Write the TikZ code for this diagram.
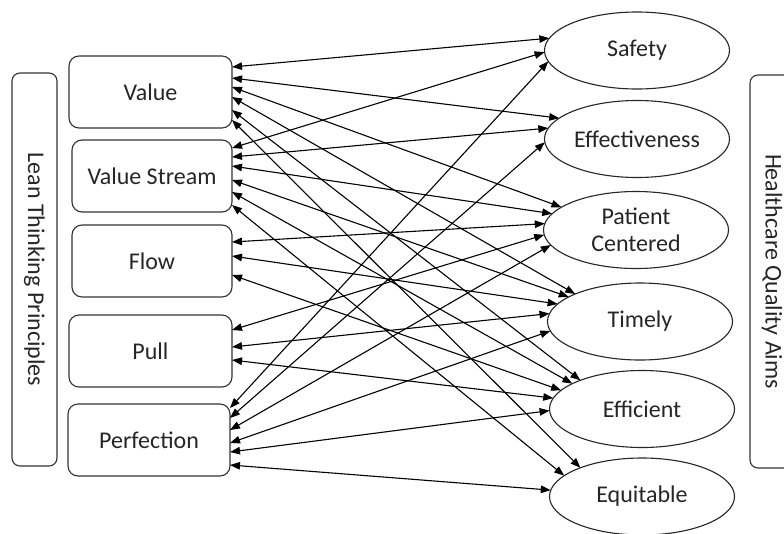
\documentclass[tikz,border=0pt]{standalone}
\usepackage{fontspec}
\setmainfont{Carlito}
\usetikzlibrary{shapes.geometric,arrows.meta}
\begin{document}
\begin{tikzpicture}[x=1pt,y=-1pt,
  lbl/.style={font=\fontsize{24}{27}\selectfont, text=black!85},
  principle/.style={lbl, draw=black!80, line width=1.1pt, rounded corners=10pt,
    minimum width=162pt, minimum height=72pt, inner sep=0pt, outer sep=0pt},
  aim/.style={lbl, draw=black!85, line width=1.1pt, ellipse, align=center,
    minimum width=185pt, minimum height=77pt, inner sep=0pt, outer sep=0pt},
  sidebox/.style={lbl, draw=black!80, line width=1.1pt, rounded corners=8pt,
    rotate=-90, minimum width=393pt, inner sep=0pt, outer sep=0pt},
  link/.style={<->, >={Triangle[length=10pt,width=7.5pt]}, line width=1.1pt, black}]
\useasboundingbox (0,0) rectangle (784,533);
\fill[white] (0,0) rectangle (784,533);

% side boxes
\node[sidebox, minimum height=45pt] (lean) at (34.5,269.5) {Lean Thinking Principles};
\node[sidebox, minimum height=44pt] (aims) at (772,271.5) {Healthcare Quality Aims};

% principles
\node[principle, minimum width=163pt] (value) at (150.5,92) {Value};
\node[principle, minimum width=160pt] (vstream) at (152,176) {Value Stream};
\node[principle, minimum width=160pt] (flow) at (152,261) {Flow};
\node[principle, minimum width=163pt] (pull) at (150.5,351) {Pull};
\node[principle, minimum width=162pt] (perf) at (149,440) {Perfection};

% aims
\node[aim] (safety) at (637,50.5) {Safety};
\node[aim] (effect) at (637,139) {Effectiveness};
\node[aim] (patient) at (636,230) {Patient\\Centered};
\node[aim] (timely) at (640,321.5) {Timely};
\node[aim] (effic) at (642,409) {Efficient};
\node[aim] (equit) at (642,496.5) {Equitable};

% Value
\draw[link] ([yshift=25pt]value.east) -- (safety.172);
\draw[link] ([yshift=14pt]value.east) -- (effect.165);
\draw[link] ([yshift=5pt]value.east) -- (patient.163);
\draw[link] ([yshift=-5pt]value.east) -- (timely.157);
\draw[link] ([yshift=-18pt]value.east) -- (effic.155);
\draw[link] ([yshift=-28pt]value.east) -- (equit.155);
% Value Stream
\draw[link] ([yshift=28pt]vstream.east) -- (safety.181);
\draw[link] ([yshift=19pt]vstream.east) -- (effect.173);
\draw[link] ([yshift=10pt]vstream.east) -- (patient.169);
\draw[link] ([yshift=-4pt]vstream.east) -- (timely.161);
\draw[link] ([yshift=-16pt]vstream.east) -- (effic.160);
\draw[link] ([yshift=-29pt]vstream.east) -- (equit.165);
% Flow
\draw[link] ([yshift=19pt]flow.east) -- (patient.176);
\draw[link] ([yshift=5pt]flow.east) -- (timely.168);
\draw[link] ([yshift=-14pt]flow.east) -- (effic.167);
% Pull
\draw[link] ([yshift=21pt]pull.east) -- (patient.183);
\draw[link] ([yshift=4pt]pull.east) -- (timely.175);
\draw[link] ([yshift=-9pt]pull.east) -- (effic.173);
% Perfection
\draw[link] ([yshift=32pt]perf.east) -- (safety.187);
\draw[link] ([yshift=22pt]perf.east) -- (effect.182);
\draw[link] ([yshift=10pt]perf.east) -- (patient.190);
\draw[link] ([yshift=-3pt]perf.east) -- (timely.186);
\draw[link] ([yshift=-12pt]perf.east) -- (effic.181);
\draw[link] ([yshift=-25pt]perf.east) -- (equit.176);
\end{tikzpicture}
\end{document}
